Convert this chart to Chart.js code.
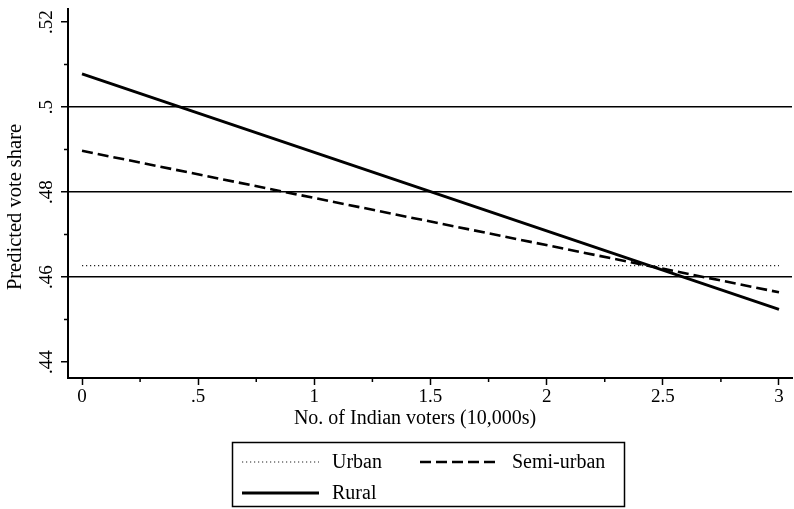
<!DOCTYPE html>
<html>
<head>
<meta charset="utf-8">
<script src="https://cdn.jsdelivr.net/npm/chart.js@4/dist/chart.umd.min.js"></script>
<style>
  html, body { margin: 0; padding: 0; background: #fff; }
  #wrap { width: 794px; height: 509px; position: relative; }
</style>
</head>
<body>
<div id="wrap"><canvas id="c" width="794" height="509"></canvas></div>
<script>
// Predicted vote share by number of Indian voters, by constituency type
const seriesNames = ['Urban', 'Semi-urban', 'Rural'];
const voters = [0, 3];                 // No. of Indian voters (10,000s)
const urban = [0.4627, 0.4627];
const semiUrban = [0.4897, 0.4564];
const rural = [0.5078, 0.4524];

const xTicks = [0, 0.5, 1, 1.5, 2, 2.5, 3];
const xMinorTicks = [0.25, 0.75, 1.25, 1.75, 2.25, 2.75];
const yTicks = [0.44, 0.46, 0.48, 0.50, 0.52];
const yMinorTicks = [0.45, 0.47, 0.49, 0.51];
const yGridAt = [0.46, 0.48, 0.50];

const xTitle = 'No. of Indian voters (10,000s)';
const yTitle = 'Predicted vote share';

const FONT = '"Liberation Serif", "Times New Roman", serif';

const fmt = v => {
  const s = String(Math.round(v * 100) / 100);
  return s.replace(/^0\./, '.');
};
const pts = ys => voters.map((x, i) => ({ x: x, y: ys[i] }));
const near = (arr, v) => arr.some(a => Math.abs(a - v) < 1e-6);

// short minor ticks, axis titles and the boxed legend
const extras = {
  id: 'extras',
  afterDraw(chart) {
    const ctx = chart.ctx;
    const xs = chart.scales.x, ys = chart.scales.y;
    ctx.save();
    ctx.strokeStyle = '#000';
    ctx.lineWidth = 1.5;
    ctx.beginPath();
    xMinorTicks.forEach(v => {
      const px = xs.getPixelForValue(v);
      ctx.moveTo(px, xs.top); ctx.lineTo(px, xs.top + 4);
    });
    yMinorTicks.forEach(v => {
      const py = ys.getPixelForValue(v);
      ctx.moveTo(ys.right, py); ctx.lineTo(ys.right - 4, py);
    });
    ctx.stroke();

    ctx.fillStyle = '#000';
    ctx.font = '20px ' + FONT;
    ctx.textAlign = 'center';
    ctx.textBaseline = 'middle';
    ctx.fillText(xTitle, 415, 419);
    ctx.save();
    ctx.translate(16, 207);
    ctx.rotate(-Math.PI / 2);
    ctx.font = '20.5px ' + FONT;
    ctx.fillText(yTitle, 0, 0);
    ctx.restore();

    // legend frame
    ctx.lineWidth = 1.5;
    ctx.strokeRect(232.5, 442.5, 392, 64);
    const slots = [
      { sx: 242, tx: 332, y: 462 },
      { sx: 420, tx: 512, y: 462 },
      { sx: 242, tx: 332, y: 493 }
    ];
    chart.data.datasets.forEach((ds, i) => {
      const s = slots[i];
      ctx.save();
      ctx.strokeStyle = ds.borderColor;
      ctx.lineWidth = ds.borderWidth;
      ctx.setLineDash(ds.borderDash || []);
      ctx.beginPath();
      ctx.moveTo(s.sx, s.y); ctx.lineTo(s.sx + 77, s.y);
      ctx.stroke();
      ctx.restore();
      ctx.textAlign = 'left';
      ctx.fillText(ds.label, s.tx, s.y + 1);
    });
    ctx.restore();
  }
};

new Chart(document.getElementById('c'), {
  type: 'scatter',
  data: {
    datasets: [
      { label: seriesNames[0], data: pts(urban), showLine: true, pointRadius: 0,
        borderColor: '#222', borderWidth: 1.2, borderDash: [1.2, 2.8] },
      { label: seriesNames[1], data: pts(semiUrban), showLine: true, pointRadius: 0,
        borderColor: '#000', borderWidth: 2.6, borderDash: [11, 5] },
      { label: seriesNames[2], data: pts(rural), showLine: true, pointRadius: 0,
        borderColor: '#000', borderWidth: 2.8 }
    ]
  },
  options: {
    responsive: false,
    animation: false,
    events: [],
    layout: { padding: { left: 0, right: 2, top: 9, bottom: 0 } },
    plugins: { legend: { display: false }, tooltip: { enabled: false } },
    scales: {
      x: {
        type: 'linear', min: -0.0603, max: 3.056,
        afterBuildTicks: s => { s.ticks = xTicks.map(v => ({ value: v })); },
        afterFit: s => { s.height = 131; s.paddingLeft = 0; s.paddingRight = 0; },
        grid: { drawOnChartArea: false, drawTicks: true, tickLength: 7, tickColor: '#000', tickWidth: 1.5 },
        border: { display: true, color: '#000', width: 2 },
        ticks: { color: '#000', font: { family: FONT, size: 19 }, padding: 1,
                 autoSkip: false, maxRotation: 0, callback: v => fmt(v) }
      },
      y: {
        type: 'linear', min: 0.43624, max: 0.52306,
        afterBuildTicks: s => { s.ticks = yTicks.map(v => ({ value: v })); },
        afterFit: s => { s.width = 68; s.paddingTop = 0; s.paddingBottom = 0; },
        grid: {
          drawTicks: true, tickLength: 7, tickColor: '#000', tickWidth: 1.5, lineWidth: 1.5,
          color: c => (c.tick && near(yGridAt, c.tick.value)) ? '#000' : 'rgba(0,0,0,0)'
        },
        border: { display: true, color: '#000', width: 2 },
        ticks: { color: '#000', font: { family: FONT, size: 19 }, padding: 2,
                 autoSkip: false, minRotation: 90, maxRotation: 90, crossAlign: 'center',
                 callback: v => fmt(v) }
      }
    }
  },
  plugins: [extras]
});
</script>
</body>
</html>
